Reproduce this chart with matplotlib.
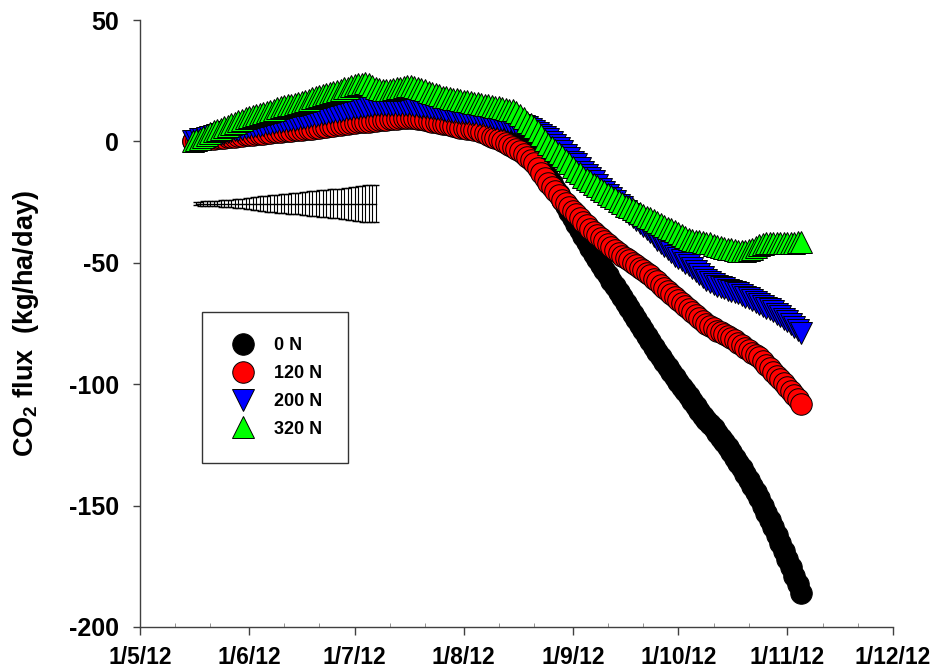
import numpy as np
import matplotlib
matplotlib.use("Agg")
import matplotlib.pyplot as plt
import matplotlib.dates as mdates
from matplotlib.ticker import FuncFormatter

# Daily values, day offsets from 1 May 2012 (day 15 .. day 188)
start = np.datetime64("2012-05-01")
days = np.arange(15, 189)

flux_0N = [
    0.0, 0.2, 0.5, 0.9, 1.2, 1.5, 1.7, 2.0, 2.2, 2.5,
    2.7, 3.0, 3.2, 3.5, 3.7, 4.0, 4.2, 4.4, 4.6, 4.8,
    5.0, 5.2, 5.4, 5.6, 5.8, 6.0, 6.2, 6.4, 6.6, 6.8,
    7.0, 7.2, 7.4, 7.6, 7.8, 8.0, 8.2, 8.5, 8.7, 9.0,
    9.2, 9.5, 9.7, 10.0, 10.2, 10.5, 10.6, 10.8, 10.9, 11.1,
    11.2, 11.4, 11.5, 11.7, 11.8, 12.0, 12.0, 12.1, 12.1, 12.1,
    12.0, 12.0, 11.8, 11.7, 11.5, 11.3, 11.1, 10.9, 10.7, 10.5,
    10.2, 10.0, 9.7, 9.5, 9.2, 9.0, 8.7, 8.5, 8.2, 8.0,
    7.6, 7.3, 6.9, 6.5, 6.0, 5.5, 4.7, 4.0, 3.0, 2.0,
    1.0, 0.0, -1.0, -2.0, -3.2, -4.5, -5.7, -7.0, -9.0, -11.0,
    -13.0, -15.0, -17.2, -19.5, -21.7, -24.0, -26.5, -29.0, -31.5, -34.0,
    -36.5, -39.0, -41.5, -44.0, -46.2, -48.5, -50.7, -53.0, -55.2, -57.5,
    -59.7, -62.0, -64.2, -66.5, -68.7, -71.0, -73.2, -75.5, -77.7, -80.0,
    -82.2, -84.5, -86.7, -89.0, -91.0, -93.0, -95.0, -97.0, -99.0, -101.0,
    -103.0, -105.0, -107.0, -109.0, -111.0, -113.0, -114.7, -116.5, -118.2, -120.0,
    -122.0, -124.0, -126.0, -128.0, -130.2, -132.5, -134.7, -137.0, -139.5, -142.0,
    -144.5, -147.0, -150.0, -153.0, -156.0, -159.0, -162.2, -165.5, -168.7, -172.0,
    -175.5, -179.0, -182.5, -186.0,
]
flux_120N = [
    0.0, 0.2, 0.4, 0.6, 0.8, 1.0, 1.1, 1.3, 1.4, 1.6,
    1.7, 1.9, 2.0, 2.2, 2.3, 2.5, 2.6, 2.8, 2.9, 3.1,
    3.2, 3.4, 3.5, 3.7, 3.8, 4.0, 4.1, 4.3, 4.4, 4.6,
    4.7, 4.9, 5.0, 5.2, 5.3, 5.5, 5.7, 5.9, 6.1, 6.3,
    6.5, 6.7, 6.9, 7.1, 7.3, 7.5, 7.6, 7.8, 7.9, 8.1,
    8.2, 8.4, 8.5, 8.7, 8.8, 9.0, 9.1, 9.3, 9.4, 9.6,
    9.7, 9.8, 9.7, 9.6, 9.4, 9.1, 8.8, 8.5, 8.2, 7.9,
    7.6, 7.3, 7.0, 6.6, 6.3, 6.0, 5.7, 5.5, 5.2, 5.0,
    4.7, 4.5, 3.9, 3.3, 2.6, 2.0, 1.4, 0.8, 0.1, -0.5,
    -1.3, -2.2, -3.1, -4.0, -5.2, -6.5, -7.7, -9.0, -11.0, -13.0,
    -15.0, -17.0, -18.7, -20.5, -22.2, -24.0, -25.5, -27.0, -28.5, -30.0,
    -31.5, -33.0, -34.5, -36.0, -37.2, -38.5, -39.7, -41.0, -42.2, -43.5,
    -44.7, -46.0, -47.0, -48.0, -49.0, -50.0, -51.0, -52.0, -53.0, -54.0,
    -55.2, -56.5, -57.7, -59.0, -60.2, -61.5, -62.7, -64.0, -65.2, -66.5,
    -67.7, -69.0, -70.2, -71.5, -72.7, -74.0, -75.0, -76.0, -77.0, -78.0,
    -78.7, -79.5, -80.2, -81.0, -82.0, -83.0, -84.0, -85.0, -86.0, -87.0,
    -88.0, -89.0, -90.5, -92.0, -93.5, -95.0, -96.5, -98.0, -99.5, -101.0,
    -102.7, -104.5, -106.2, -108.0,
]
flux_200N = [
    0.0, 0.3, 0.8, 1.2, 1.6, 2.0, 2.4, 2.7, 3.1, 3.4,
    3.8, 4.1, 4.5, 4.8, 5.2, 5.5, 5.8, 6.0, 6.3, 6.5,
    6.8, 7.0, 7.3, 7.5, 7.8, 8.0, 8.3, 8.5, 8.8, 9.0,
    9.3, 9.5, 9.8, 10.0, 10.3, 10.5, 10.8, 11.1, 11.4, 11.7,
    12.0, 12.3, 12.6, 12.9, 13.2, 13.5, 13.7, 13.9, 14.1, 14.3,
    14.5, 14.7, 14.9, 15.0, 15.1, 15.2, 15.2, 15.2, 15.2, 15.1,
    15.0, 14.9, 14.8, 14.6, 14.4, 14.2, 14.0, 13.8, 13.6, 13.4,
    13.2, 12.9, 12.7, 12.5, 12.3, 12.1, 11.9, 11.7, 11.5, 11.3,
    11.1, 10.9, 10.7, 10.4, 10.1, 9.7, 9.4, 9.0, 8.7, 8.3,
    7.9, 7.5, 7.1, 6.7, 6.3, 5.8, 5.1, 4.3, 3.6, 2.8,
    1.9, 1.0, -0.3, -1.5, -2.8, -4.0, -5.5, -7.0, -8.3, -9.5,
    -11.0, -12.5, -13.7, -15.0, -16.5, -18.0, -19.5, -21.0, -22.2, -23.5,
    -24.7, -26.0, -27.2, -28.5, -29.7, -31.0, -32.2, -33.5, -34.7, -36.0,
    -37.5, -39.0, -40.5, -42.0, -43.2, -44.5, -45.7, -47.0, -48.0, -49.0,
    -50.0, -51.0, -52.2, -53.5, -54.7, -56.0, -57.0, -58.0, -58.7, -59.5,
    -60.0, -60.5, -61.0, -61.5, -62.0, -62.5, -63.2, -64.0, -64.7, -65.5,
    -66.2, -67.0, -67.7, -68.5, -69.2, -70.0, -71.0, -72.0, -73.0, -74.0,
    -75.2, -76.5, -77.7, -79.0,
]
flux_320N = [
    0.0, 0.5, 1.2, 2.0, 2.7, 3.5, 4.1, 4.7, 5.3, 5.9,
    6.5, 7.1, 7.7, 8.3, 8.9, 9.5, 10.0, 10.4, 10.9, 11.3,
    11.8, 12.2, 12.7, 13.1, 13.6, 14.0, 14.4, 14.8, 15.2, 15.6,
    16.0, 16.4, 16.8, 17.2, 17.7, 18.2, 18.6, 19.1, 19.5, 20.0,
    20.4, 20.9, 21.3, 21.8, 22.2, 22.7, 23.1, 23.5, 23.8, 24.0,
    23.5, 23.0, 22.2, 21.5, 21.2, 21.0, 21.2, 21.5, 21.8, 22.2,
    22.5, 22.8, 22.7, 22.5, 22.0, 21.5, 21.0, 20.5, 20.0, 19.5,
    19.0, 18.5, 18.1, 17.8, 17.5, 17.3, 17.0, 16.8, 16.5, 16.3,
    16.0, 15.8, 15.5, 15.2, 14.9, 14.6, 14.3, 14.0, 13.7, 13.4,
    13.1, 12.8, 12.0, 11.0, 9.5, 8.0, 7.0, 6.0, 4.3, 2.5,
    0.7, -1.0, -2.2, -3.5, -4.7, -6.0, -7.5, -9.0, -10.5, -12.0,
    -13.2, -14.5, -15.5, -16.5, -17.5, -18.5, -19.5, -20.5, -21.5, -22.5,
    -23.5, -24.5, -25.5, -26.5, -27.2, -28.0, -28.7, -29.5, -30.2, -31.0,
    -31.7, -32.5, -33.2, -34.0, -34.7, -35.5, -36.2, -37.0, -37.7, -38.5,
    -39.2, -40.0, -40.5, -41.0, -41.2, -41.5, -41.7, -42.0, -42.5, -43.0,
    -43.5, -44.0, -44.2, -44.5, -44.7, -45.0, -45.0, -45.0, -44.7, -44.5,
    -43.5, -42.5, -42.2, -42.0, -42.0, -42.0, -42.0, -42.0, -42.0, -42.0,
    -41.9, -41.8, -41.6, -41.5,
]

# Error bar wedge (daily), centred on a constant level
err_days = np.arange(16, 68)
err_center = -25.6
err_size = [
    0.7, 0.8, 0.9, 1.0, 1.0, 1.1, 1.2,
    1.3, 1.4, 1.5, 1.6, 1.7, 1.8, 2.0,
    2.2, 2.4, 2.6, 2.8, 3.0, 3.1, 3.3,
    3.4, 3.6, 3.7, 3.8, 3.9, 4.1, 4.2,
    4.4, 4.5, 4.7, 4.8, 5.0, 5.1, 5.3,
    5.4, 5.6, 5.7, 5.8, 6.0, 6.1, 6.2,
    6.4, 6.6, 6.8, 7.0, 7.2, 7.4, 7.5,
    7.5, 7.5, 7.5,
]

labels = ["0 N", "120 N", "200 N", "320 N"]
colors = ["black", "red", "blue", "#00ff00"]
markers = ["o", "o", "v", "^"]
sizes = [15.5, 15.5, 16, 16]

plt.rcParams["font.family"] = ["Liberation Sans", "DejaVu Sans"]
plt.rcParams["font.weight"] = "bold"
plt.rcParams["axes.unicode_minus"] = False
plt.rcParams["mathtext.fontset"] = "custom"
plt.rcParams["mathtext.rm"] = "Liberation Sans:bold"
plt.rcParams["mathtext.bf"] = "Liberation Sans:bold"


def date_label(x, pos):
    d = mdates.num2date(x)
    return f"{d.day}/{d.month}/{d.strftime('%y')}"


fig = plt.figure(figsize=(9.3, 6.72), dpi=100)
ax = fig.add_axes([0.1505, 0.067, 0.8097, 0.9032])

x = start + days
for vals, lab, col, mk, ms in zip([flux_0N, flux_120N, flux_200N, flux_320N],
                                  labels, colors, markers, sizes):
    ax.plot(x, vals, linestyle="none", marker=mk, markersize=ms, markerfacecolor=col,
            markeredgecolor="black", markeredgewidth=0.7, label=lab)

ax.errorbar(start + err_days, np.full(len(err_days), err_center), yerr=err_size,
            fmt="-", color="black", linewidth=1.0, elinewidth=0.8, capsize=2.5,
            capthick=1.0)

ax.set_xlim(np.datetime64("2012-05-01"), np.datetime64("2012-12-01"))
ax.set_ylim(-200, 50)
ax.set_yticks([-200, -150, -100, -50, 0, 50])
ax.xaxis.set_major_locator(mdates.MonthLocator())
ax.xaxis.set_major_formatter(FuncFormatter(date_label))
ax.xaxis.set_minor_locator(mdates.DayLocator(bymonthday=[11, 21]))

for side in ["top", "right"]:
    ax.spines[side].set_visible(False)
for side in ["left", "bottom"]:
    ax.spines[side].set_color("#404040")
    ax.spines[side].set_linewidth(1.0)

ax.tick_params(axis="both", which="major", direction="out", color="#404040", width=1.0)
ax.tick_params(axis="y", which="major", length=5, pad=10, labelsize=18)
ax.tick_params(axis="x", which="major", length=6, pad=8, labelsize=16.5)
ax.tick_params(axis="x", which="minor", length=3, direction="in", color="#808080")

ax.set_ylabel(r"CO$_2$ flux  (kg/ha/day)", fontsize=19.5, fontweight="bold", labelpad=20)

leg = ax.legend(loc="upper left", bbox_to_anchor=(0.0823, 0.519), borderaxespad=0,
                fancybox=False, frameon=True, edgecolor="black", fontsize=13,
                borderpad=1.4, labelspacing=0.6, handlelength=1.7,
                handletextpad=0.9)
leg.get_frame().set_linewidth(1.0)

fig.savefig("out.png", dpi=100)
